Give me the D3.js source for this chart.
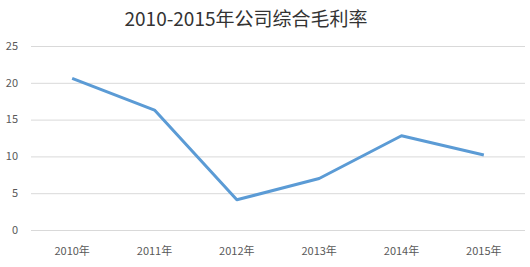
<!DOCTYPE html>
<html>
<head>
    <meta charset="utf-8">
    <script src="https://d3js.org/d3.v7.min.js"></script>
    <style>
        body { margin: 0; background: #fff; }
        text { font-family: "Noto Sans CJK SC", "Noto Sans", sans-serif; }
    </style>
</head>
<body>
    <div id="chart"></div>
    <script>
        const years = ['2010年', '2011年', '2012年', '2013年', '2014年', '2015年'];
        const margins = [20.6, 16.3, 4.1, 7.0, 12.8, 10.2];
        const yTicks = [0, 5, 10, 15, 20, 25];

        const width = 530, height = 267;
        const plotLeft = 31, plotRight = 525, plotTop = 46, plotBottom = 230;

        const svg = d3.select('#chart').append('svg')
            .attr('width', width)
            .attr('height', height);

        const x = d3.scalePoint().domain(years).range([plotLeft, plotRight]).padding(0.5);
        const y = d3.scaleLinear().domain([0, 25]).range([plotBottom, plotTop]);

        // gridlines
        svg.append('g')
            .selectAll('line')
            .data(yTicks)
            .enter().append('line')
            .attr('x1', plotLeft).attr('x2', plotRight)
            .attr('y1', d => y(d) + 0.5).attr('y2', d => y(d) + 0.5)
            .style('stroke', '#d9d9d9')
            .style('stroke-width', 1);

        // y labels
        svg.append('g')
            .selectAll('text')
            .data(yTicks)
            .enter().append('text')
            .attr('x', 18)
            .attr('y', d => y(d))
            .attr('dy', '0.35em')
            .attr('text-anchor', 'end')
            .style('font-size', '11px')
            .style('fill', '#595959')
            .text(d => d);

        // x labels
        svg.append('g')
            .selectAll('text')
            .data(years)
            .enter().append('text')
            .attr('x', d => x(d))
            .attr('y', 251)
            .attr('dy', '0.35em')
            .attr('text-anchor', 'middle')
            .style('font-size', '11px')
            .style('fill', '#595959')
            .text(d => d);

        const line = d3.line()
            .x((d, i) => x(years[i]))
            .y(d => y(d));

        svg.append('path')
            .datum(margins)
            .attr('d', line)
            .style('fill', 'none')
            .style('stroke', '#5b9bd5')
            .style('stroke-width', 3)
            .style('stroke-linejoin', 'round');

        svg.append('text')
            .attr('x', 246)
            .attr('y', 26)
            .attr('text-anchor', 'middle')
            .style('font-size', '19px')
            .style('fill', '#333333')
            .text('2010-2015年公司综合毛利率');
    </script>
</body>
</html>
